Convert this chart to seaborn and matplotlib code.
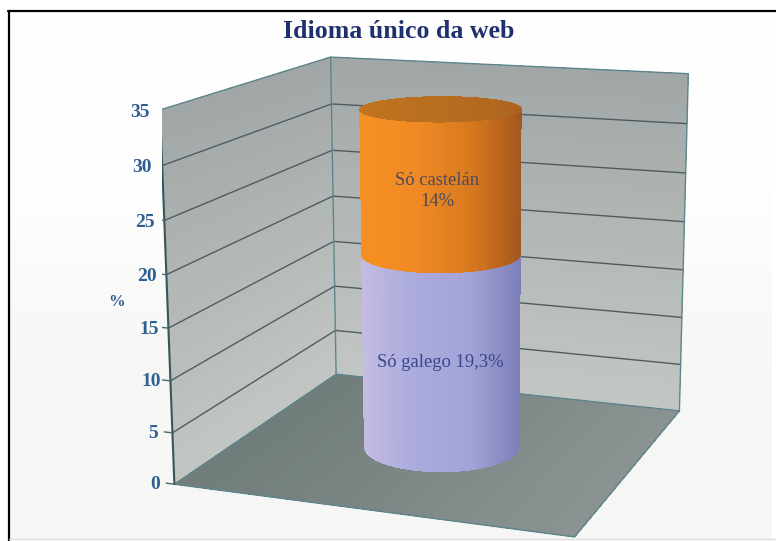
import numpy as np
import seaborn as sns
import matplotlib
matplotlib.use('Agg')
import matplotlib.pyplot as plt
from matplotlib.colors import to_rgba
from matplotlib.lines import Line2D
from mpl_toolkits.mplot3d import proj3d

# data
labels = ['Só galego 19,3%', 'Só castelán\n14%']
values = [19.3, 14]
yticks = [0, 5, 10, 15, 20, 25, 30, 35]
label_x = [0.5, 0.493]
label_z = [8.5, 25.4]
title = 'Idioma único da web'

# camera fitted to the walls of the original chart
elev, azim, roll, focal = 13.7795, -69.3729, 0.2306, 0.6696
aspect = (1.1038, 1.0715, 1)
zoom = 1.2021
dx, dy = 44.6196, -8.9198

navy = '#20306e'
tick_col = '#2f5f92'
edge_col = '#5d868c'
grid_col = '#4f5c5e'

sns.set_theme(style='white')
plt.rcParams['font.family'] = ['Liberation Serif', 'DejaVu Serif']

fig = plt.figure(figsize=(7.76, 5.41), dpi=100, facecolor='white')

# page background, slightly grey below the middle
bg = fig.add_axes([8 / 776, 2 / 541, 764 / 776, 528 / 541], zorder=-1)
bg_col = sns.blend_palette(['#ffffff', '#fefefe', '#f7f7f5', '#f6f6f4'], 64)
bg.imshow(np.array(bg_col)[:, None, :], aspect='auto')
bg.axis('off')

S = 541 / 776
ax = fig.add_axes([((776 - 541) / 2 + dx) / 776, dy / 541, S, 1], projection='3d', computed_zorder=False)
ax.patch.set_alpha(0)
ax.set_xlim(0, 1, view_margin=0)
ax.set_ylim(0, 1, view_margin=0)
ax.set_zlim(0, yticks[-1], view_margin=0)
ax.view_init(elev, azim, roll)
ax.set_proj_type('persp', focal_length=focal)
ax.set_box_aspect(aspect, zoom=zoom)
ax.set_axis_off()
M = ax.get_proj()


def surf(X, Y, Z, cols, zo):
    ax.plot_surface(X, Y, Z, facecolors=cols, shade=False, linewidth=0, antialiased=False,
                    rstride=1, cstride=1, zorder=zo)


def label(x, y, z, s, **kw):
    # flat text at the projected position of a data point
    px, py, _ = proj3d.proj_transform(x, y, z, M)
    ax.text2D(px, py, s, transform=ax.transData, ha='center', va='center', **kw)


# walls, lighter towards the floor
n = 36
zz = np.linspace(0, yticks[-1], n)
wall_pal = np.array([to_rgba(c) for c in sns.blend_palette(['#c2c6c3', '#b3b8b6', '#a0a6a6'], n)])
uu = np.linspace(0, 1, 2)
U, ZZ = np.meshgrid(uu, zz)
wall_cols = np.repeat(wall_pal[:, None, :], 2, axis=1)
surf(np.zeros_like(U), U, ZZ, wall_cols, 1)
surf(U, np.ones_like(U), ZZ, wall_cols, 1)

# floor
fx = np.linspace(0, 1, 30)
FX, FY = np.meshgrid(fx, uu)
floor_pal = np.array([to_rgba(c) for c in sns.blend_palette(['#717d7b', '#7c8785', '#8b9492'], 30)])
floor_cols = np.repeat(floor_pal[None, :, :], 2, axis=0)
surf(FX, FY, np.zeros_like(FX), floor_cols, 1)

# grid lines on the walls
for t in yticks[1:-1]:
    ax.plot([0, 0, 1], [0, 1, 1], [t, t, t], color=grid_col, lw=1, zorder=2)

# edges
top = yticks[-1]
ax.plot([0, 0, 1, 1], [0, 1, 1, 1], [top, top, top, 0], color=edge_col, lw=1, zorder=2)
ax.plot([0, 0], [1, 1], [0, top], color=edge_col, lw=1, zorder=2)
ax.plot([0, 0, 1], [0, 1, 1], [0, 0, 0], color=edge_col, lw=1, zorder=2)
ax.plot([0, 1, 1], [0, 0, 1], [0, 0, 0], color=edge_col, lw=1, zorder=2)
ax.plot([0, 0], [0, 0], [0, top], color='#35565c', lw=1.5, zorder=2)

# ticks and labels
for t in yticks:
    ax.plot([-0.022, 0], [0, 0], [t, t], color='#4a6a72', lw=1, zorder=2)
    label(-0.052, 0, t - 0.3, str(t), fontsize=14, fontweight='bold', color=tick_col, zorder=6)
label(-0.135, 0, 17.0, '%', fontsize=12, fontweight='bold', color=tick_col, zorder=6)

# stacked cylinder
cx, cy = 0.503, 0.5
rx = 0.196
ry = rx * aspect[0] / aspect[1]
th = np.linspace(0, 2 * np.pi, 181)
side = (np.sin(th - np.radians(azim)) + 1) / 2
side_pals = [['#c4bce2', '#aaaadd', '#a3a3d8', '#7c7cb8'],
             ['#f79022', '#f08a24', '#d9791f', '#a0561d']]
cap_pal = ['#c2761f', '#b86e20', '#a9621e']
base = 0
for i, v in enumerate(values):
    pal = np.array([to_rgba(c) for c in sns.blend_palette(side_pals[i], 256)])
    X = np.tile(cx + rx * np.cos(th), (2, 1))
    Y = np.tile(cy + ry * np.sin(th), (2, 1))
    Z = np.vstack([np.full_like(th, base), np.full_like(th, base + v)])
    cols = pal[(side * 255).astype(int)]
    surf(X, Y, Z, np.repeat(cols[None, :, :], 2, axis=0), 3 + i)
    label(label_x[i], cy, label_z[i], labels[i], fontsize=13.4, color=['#37478c', '#4b4a5e'][i], linespacing=1.3, zorder=7)
    base += v

# cap, shaded from left to right as seen by the viewer
a = np.sin(np.linspace(-np.pi / 2, np.pi / 2, 121))
b = np.sqrt(1 - a ** 2) * np.array([[-1], [1]])
az = np.radians(azim)
capX = cx + rx * (a * np.cos(az + np.pi / 2) + b * np.cos(az))
capY = cy + ry * (a * np.sin(az + np.pi / 2) + b * np.sin(az))
capZ = np.full_like(capX, base)
cpal = np.array([to_rgba(c) for c in sns.blend_palette(cap_pal, 121)])
surf(capX, capY, capZ, np.repeat(cpal[None, :, :], 2, axis=0), 5)

fig.text(399 / 776, 1 - 31.5 / 541, title, ha='center', va='center', fontsize=18.6, fontweight='bold', color=navy)

# frame of the scanned picture
fig.add_artist(Line2D([8.5 / 776, 8.5 / 776], [0, 1 - 11 / 541], color='black', lw=1.6))
fig.add_artist(Line2D([8 / 776, 1], [1 - 11 / 541, 1 - 11 / 541], color='black', lw=1.6))
fig.add_artist(Line2D([9 / 776, 1], [2 / 541, 2 / 541], color='#dcdcdc', lw=1))

fig.savefig('out.png', dpi=100)
